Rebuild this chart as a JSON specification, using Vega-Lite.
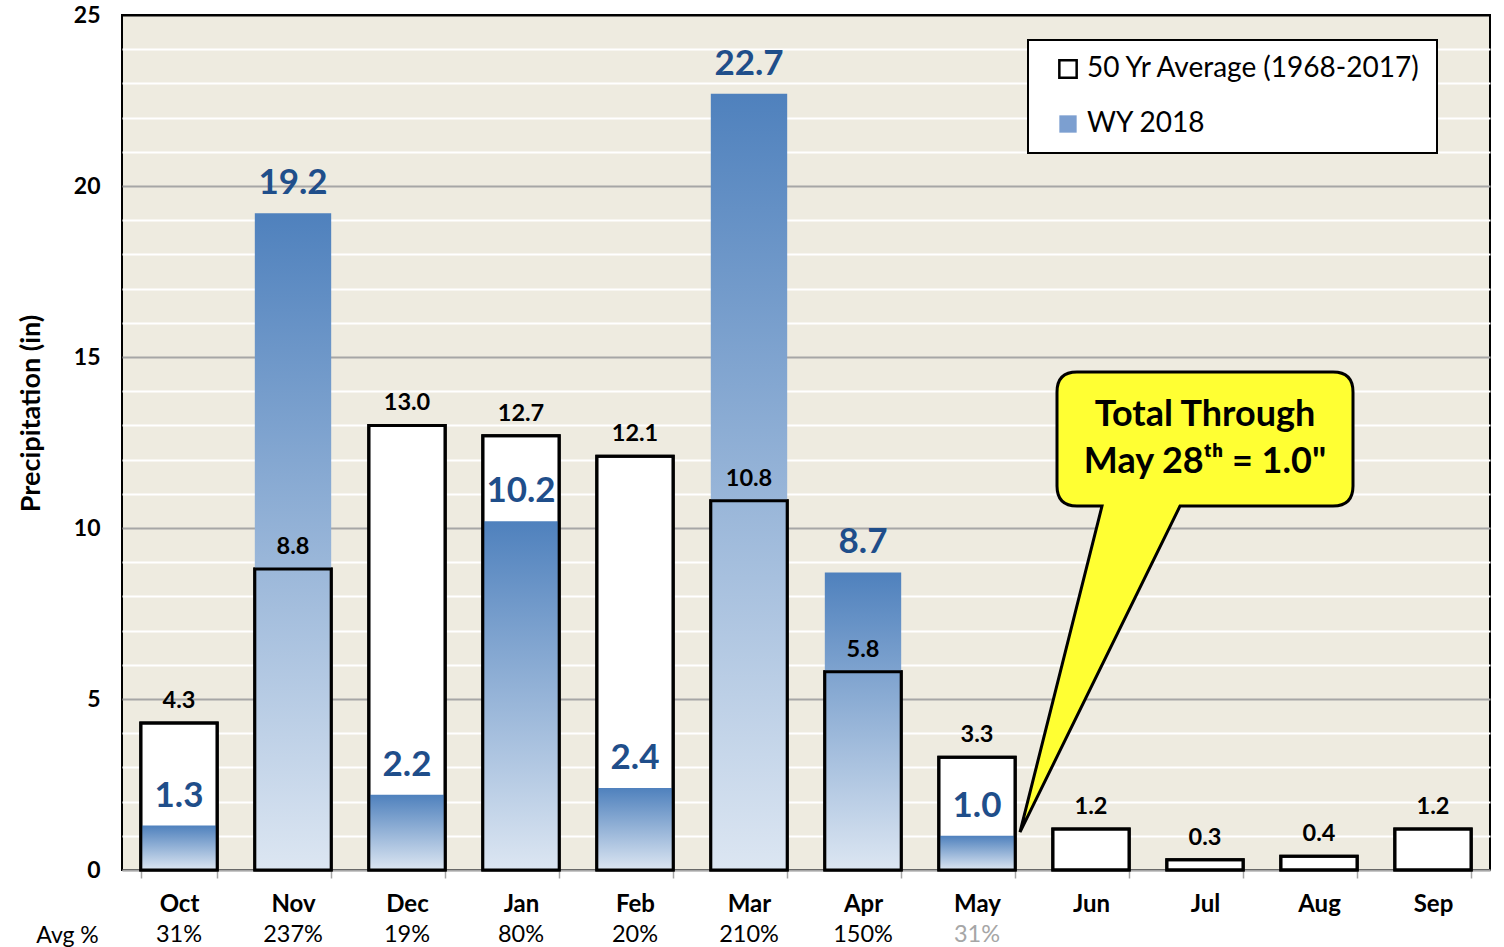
{
  "$schema": "https://vega.github.io/schema/vega-lite/v6.json",
  "width": 1368,
  "height": 855,
  "autosize": {"type": "none"},
  "padding": {"left": 122, "top": 15, "right": 14, "bottom": 77},
  "background": "white",
  "config": {
    "font": "Lato",
    "view": {"fill": "#EEEBE0", "stroke": "black", "strokeWidth": 2},
    "legend": {
      "orient": "none", "legendX": 906, "legendY": 25,
      "fillColor": "white", "strokeColor": "black", "strokeWidth": 2,
      "padding": 15, "labelFontSize": 28, "labelFont": "Lato", "labelColor": "black",
      "symbolType": "square", "symbolSize": 300, "symbolStrokeWidth": 2.5, "symbolOffset": 11,
      "rowPadding": 27, "labelOffset": 5, "labelLimit": 500
    }
  },
  "data": {
    "values": [
      {"month": "Oct", "avg": 4.3, "wy": 1.3, "pct": "31%"},
      {"month": "Nov", "avg": 8.8, "wy": 19.2, "pct": "237%"},
      {"month": "Dec", "avg": 13.0, "wy": 2.2, "pct": "19%"},
      {"month": "Jan", "avg": 12.7, "wy": 10.2, "pct": "80%"},
      {"month": "Feb", "avg": 12.1, "wy": 2.4, "pct": "20%"},
      {"month": "Mar", "avg": 10.8, "wy": 22.7, "pct": "210%"},
      {"month": "Apr", "avg": 5.8, "wy": 8.7, "pct": "150%"},
      {"month": "May", "avg": 3.3, "wy": 1.0, "pct": "31%"},
      {"month": "Jun", "avg": 1.2, "wy": null, "pct": ""},
      {"month": "Jul", "avg": 0.3, "wy": null, "pct": ""},
      {"month": "Aug", "avg": 0.4, "wy": null, "pct": ""},
      {"month": "Sep", "avg": 1.2, "wy": null, "pct": ""}
    ]
  },
  "encoding": {
    "x": {
      "field": "month", "type": "nominal", "sort": null,
      "scale": {"paddingInner": 0.33, "paddingOuter": 0.165},
      "axis": {
        "title": "Avg %", "titleX": -55, "titleY": 72, "titleAlign": "center", "titleBaseline": "alphabetic",
        "titleFontSize": 23, "titleFontWeight": "normal", "titleColor": "black",
        "labelFontSize": 24, "labelFontWeight": "bold", "labelColor": "black", "labelAngle": 0, "labelPadding": 14,
        "tickBand": "extent", "tickSize": 8, "tickColor": "#A6A6A6", "tickWidth": 1.5,
        "domainColor": "#A6A6A6", "domainWidth": 1.5, "grid": false
      }
    }
  },
  "layer": [
    {
      "mark": {"type": "bar", "strokeWidth": 3},
      "encoding": {
        "y": {
          "field": "avg", "type": "quantitative",
          "scale": {"domain": [0, 25], "nice": false},
          "axis": {
            "values": [0,1,2,3,4,5,6,7,8,9,10,11,12,13,14,15,16,17,18,19,20,21,22,23,24,25],
            "tickCount": 30,
            "labelExpr": "datum.value % 5 === 0 ? datum.label : ''",
            "labelOverlap": false,
            "ticks": false, "domain": false, "grid": true,
            "gridColor": {"condition": [{"test": "datum.value >= 25", "value": "black"}, {"test": "datum.value % 5 === 0", "value": "#A6A6A6"}], "value": "white"},
            "gridWidth": 2,
            "labelFontSize": 23, "labelFontWeight": "bold", "labelColor": "black", "labelPadding": 22,
            "title": "Precipitation (in)", "titleFontSize": 27, "titleFontWeight": "bold", "titleColor": "black",
            "titleX": -91, "titleY": 398, "titleAlign": "center", "titleBaseline": "middle", "titleAngle": -90
          }
        },
        "fill": {
          "datum": "50 Yr Average (1968-2017)", "type": "nominal",
          "scale": {"domain": ["50 Yr Average (1968-2017)", "WY 2018"], "range": ["white", "#7C9FD0"]},
          "legend": {"title": null}
        },
        "stroke": {
          "datum": "50 Yr Average (1968-2017)", "type": "nominal",
          "scale": {"domain": ["50 Yr Average (1968-2017)", "WY 2018"], "range": ["black", "transparent"]},
          "legend": {"title": null}
        }
      }
    },
    {
      "mark": {
        "type": "bar",
        "fill": {"gradient": "linear", "x1": 0, "y1": 0, "x2": 0, "y2": 1, "stops": [{"offset": 0, "color": "#4F81BD"}, {"offset": 1, "color": "#DCE6F2"}]}
      },
      "encoding": {
        "y": {"field": "wy", "type": "quantitative"}
      }
    },
    {
      "mark": {"type": "bar", "fillOpacity": 0, "stroke": "black", "strokeWidth": 3},
      "encoding": {"y": {"field": "avg", "type": "quantitative"}}
    },
    {
      "mark": {"type": "text", "baseline": "alphabetic", "dy": -15, "fontSize": 23.5, "fontWeight": "bold", "color": "black"},
      "encoding": {
        "y": {"field": "avg", "type": "quantitative"},
        "text": {"field": "avg", "type": "quantitative", "format": ".1f"}
      }
    },
    {
      "mark": {"type": "text", "baseline": "alphabetic", "dy": -19, "fontSize": 35, "fontWeight": "bold", "color": "#1F4E8A"},
      "encoding": {
        "y": {"field": "wy", "type": "quantitative"},
        "text": {"field": "wy", "type": "quantitative", "format": ".1f"}
      }
    },
    {
      "mark": {"type": "text", "baseline": "alphabetic", "dy": 72, "fontSize": 23.5},
      "encoding": {
        "y": {"datum": 0},
        "text": {"field": "pct"},
        "color": {"condition": {"test": "datum.month === 'May'", "value": "#A6A6A6"}, "value": "black"}
      }
    },
    {
      "data": {"values": [{}]},
      "mark": {
        "type": "point",
        "shape": "M -128 -67 L 128 -67 Q 148 -67 148 -47 L 148 47 Q 148 67 128 67 L -25 67 L -185 393 L -103 67 L -128 67 Q -148 67 -148 47 L -148 -47 Q -148 -67 -128 -67 Z",
        "size": 4, "filled": true, "fill": "#FFFF33", "stroke": "black", "strokeWidth": 3, "opacity": 1, "fillOpacity": 1
      },
      "encoding": {"x": {"datum": "Jul"}, "y": {"datum": 12.6}}
    },
    {
      "data": {"values": [{}]},
      "mark": {"type": "text", "text": "Total Through", "fontSize": 36, "fontWeight": "bold", "color": "black", "baseline": "middle"},
      "encoding": {"x": {"datum": "Jul"}, "y": {"datum": 13.3}}
    },
    {
      "data": {"values": [{}]},
      "mark": {"type": "text", "text": "May 28ᵗʰ = 1.0\"", "fontSize": 36, "fontWeight": "bold", "color": "black", "baseline": "middle"},
      "encoding": {"x": {"datum": "Jul"}, "y": {"datum": 11.93}}
    }
  ]
}
